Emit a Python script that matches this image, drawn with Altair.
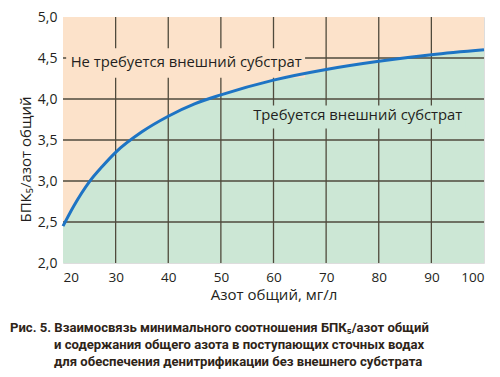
import altair as alt
import pandas as pd

# Data
nitrogen = [20, 22, 25, 27.5, 30, 35, 40, 45, 50, 60, 70, 80, 90, 100]
bod_ratio = [2.45, 2.69, 2.99, 3.18, 3.35, 3.60, 3.79, 3.94, 4.05, 4.23, 4.36, 4.46, 4.54, 4.60]
x_ticks = [20, 30, 40, 50, 60, 70, 80, 90, 100]
y_ticks = [2.0, 2.5, 3.0, 3.5, 4.0, 4.5, 5.0]
x_grid = [30, 40, 50, 60, 70, 80, 90]
y_grid = [2.5, 3.0, 3.5, 4.0, 4.5]
label_not_required = "Не требуется внешний субстрат"
label_required = "Требуется внешний субстрат"
x_title = "Азот общий, мг/л"
y_title = "БПК₅/азот общий"
caption_lines = [
    "Рис. 5. Взаимосвязь минимального соотношения БПК₅/азот общий",
    "и содержания общего азота в поступающих сточных водах",
    "для обеспечения денитрификации без внешнего субстрата",
]

PEACH = "#FCE2CA"
GREEN = "#CCE7D5"
GRID = "#4F4A3C"
BLUE = "#1E74C4"
TEXT = "#231F20"
FONT = "Open Sans"

W, H = 421, 246

curve = pd.DataFrame({"n": nitrogen, "r": bod_ratio})
one = pd.DataFrame({"k": [0]})

xs = alt.Scale(domain=[20, 100], nice=False, zero=False)
ys = alt.Scale(domain=[2.0, 5.0], nice=False, zero=False)

x_axis = alt.Axis(values=x_ticks, grid=False, ticks=False, domain=False,
                  labelFontSize=13.5, labelColor=TEXT, labelFont=FONT, labelPadding=7,
                  title=x_title, titleFontSize=15, titleFontWeight="normal",
                  titleColor=TEXT, titleFont=FONT, titlePadding=4)
y_axis = alt.Axis(values=y_ticks, grid=False, ticks=False, domain=False,
                  labelExpr="replace(format(datum.value, '.1f'), '.', ',')",
                  labelFontSize=14, labelColor=TEXT, labelFont=FONT, labelPadding=6,
                  title=y_title, titleFontSize=15, titleFontWeight="normal",
                  titleColor=TEXT, titleFont=FONT, titleY=142, titleX=-30)

bg = alt.Chart(one).mark_rect(color=PEACH).encode(
    x=alt.datum(20), x2=alt.datum(100), y=alt.datum(2.0), y2=alt.datum(5.0)
)

area = alt.Chart(curve).mark_area(color=GREEN, interpolate="monotone", opacity=1).encode(
    x=alt.X("n:Q", scale=xs, axis=x_axis),
    y=alt.Y("r:Q", scale=ys, axis=y_axis),
    y2=alt.datum(2.0),
)

vrules = alt.Chart(pd.DataFrame({"g": x_grid})).mark_rule(color=GRID, strokeWidth=1.3).encode(
    x=alt.X("g:Q", scale=xs)
)
hrules = alt.Chart(pd.DataFrame({"g": y_grid})).mark_rule(color=GRID, strokeWidth=1.3).encode(
    y=alt.Y("g:Q", scale=ys)
)

patch1 = alt.Chart(one).mark_rect(color=PEACH).encode(
    x=alt.datum(20.6), x2=alt.datum(66.0), y=alt.datum(4.26), y2=alt.datum(4.62)
)
patch2 = alt.Chart(one).mark_rect(color=GREEN).encode(
    x=alt.datum(55.5), x2=alt.datum(96.5), y=alt.datum(3.64), y2=alt.datum(3.92)
)

text1 = alt.Chart(one).mark_text(font=FONT, fontSize=14.8, color=TEXT, baseline="middle").encode(
    x=alt.datum(43.4), y=alt.datum(4.44), text=alt.value(label_not_required)
)
text2 = alt.Chart(one).mark_text(font=FONT, fontSize=14.8, color=TEXT, baseline="middle").encode(
    x=alt.datum(76.0), y=alt.datum(3.79), text=alt.value(label_required)
)

line = alt.Chart(curve).mark_line(color=BLUE, strokeWidth=3, interpolate="monotone").encode(
    x=alt.X("n:Q", scale=xs), y=alt.Y("r:Q", scale=ys)
)

caps = []
cap_x = [10 - 63, 54 - 63, 54 - 63]
for i, txt in enumerate(caption_lines):
    caps.append(
        alt.Chart(one).mark_text(
            font="Roboto", fontSize=13.1, fontWeight="bold", color="#2E2418",
            align="left", baseline="middle",
        ).encode(x=alt.value(cap_x[i]), y=alt.value(311 + 17 * i), text=alt.value(txt))
    )

chart = alt.layer(bg, area, vrules, hrules, patch1, patch2, text1, text2, line, *caps).properties(
    width=W, height=H,
    autosize=alt.AutoSizeParams(type="none"),
    padding={"left": 55, "top": 9, "right": 8, "bottom": 106},
).configure_view(stroke=GRID, strokeWidth=1.5).configure(background="white")

chart.save("out.html", embed_options={"renderer": "svg", "actions": False})
